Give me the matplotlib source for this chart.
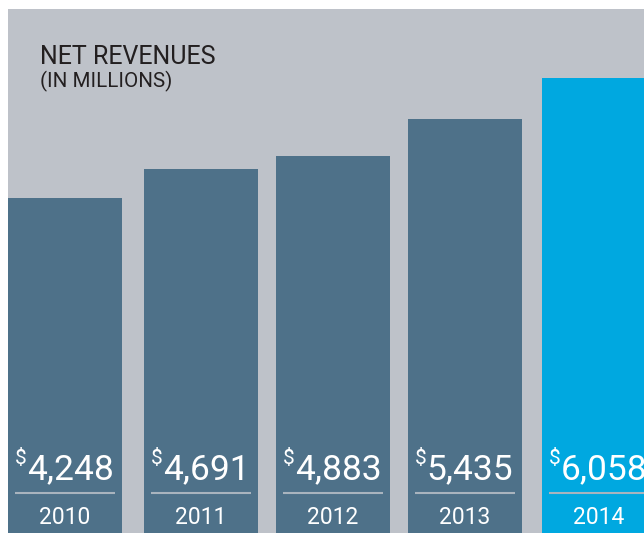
import matplotlib
matplotlib.use("Agg")
import matplotlib.pyplot as plt

years = ["2010", "2011", "2012", "2013", "2014"]
revenues = [4248, 4691, 4883, 5435, 6058]
value_labels = ["4,248", "4,691", "4,883", "5,435", "6,058"]

plt.rcParams["font.family"] = ["Roboto", "DejaVu Sans"]

panel_color = "#BEC2C9"
bar_color = "#4E7189"
last_color = "#00A8E0"

# bar centres in pixel-like units (gaps are not even in the original)
bar_x = [65, 201, 333, 465, 599]
bar_w = 114

fig = plt.figure(figsize=(6.44, 5.33), dpi=100)
fig.patch.set_facecolor("white")
ax = fig.add_axes([8 / 644, 0, 636 / 644, 524 / 533])
ax.set_facecolor(panel_color)

# axis does not start at zero in the original, bars start below the frame
y_low, y_high = -805, 7100
colors = [bar_color] * (len(years) - 1) + [last_color]
ax.bar(bar_x, [v - y_low for v in revenues], bottom=y_low, width=bar_w,
       color=colors, zorder=2)
ax.set_ylim(y_low, y_high)
ax.set_xlim(8, 644)
for s in ax.spines.values():
    s.set_visible(False)
ax.set_xticks([])
ax.set_yticks([])

trans = ax.get_xaxis_transform()
ax.text(40, 0.895, "NET REVENUES", transform=trans,
        fontsize=18, color="#231F20", va="baseline", ha="left")
ax.text(40, 0.851, "(IN MILLIONS)", transform=trans,
        fontsize=14.8, color="#231F20", va="baseline", ha="left")

for xc, yr, lab in zip(bar_x, years, value_labels):
    t = ax.text(xc + 5, 0.102, lab, transform=trans, ha="center",
                va="baseline", fontsize=25.5, color="white", zorder=3)
    ax.annotate("$", xy=(0, 1), xycoords=t, xytext=(0, 3),
                textcoords="offset points", ha="right", va="top",
                fontsize=15, color="white", zorder=3)
    ax.plot([xc - 50, xc + 50], [0.076, 0.076], transform=trans,
            color="#A9B4BE", lw=1.5, zorder=3, solid_capstyle="butt")
    ax.text(xc, 0.018, yr, transform=trans, ha="center", va="baseline",
            fontsize=16.5, color="white", zorder=3)

fig.savefig("out.png", dpi=100)
